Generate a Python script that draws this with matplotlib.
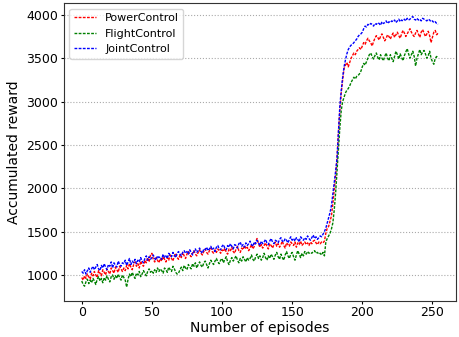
import matplotlib.pyplot as plt

plt.rcParams['font.family'] = ['DejaVu Sans']

# Rewards, one value per episode (0..254)
joint_control = [
    1040, 1020, 1060, 1010, 1050, 1080, 1030, 1070, 1100, 1060,
    1090, 1120, 1070, 1050, 1110, 1080, 1130, 1090, 1060, 1120,
    1100, 1150, 1080, 1140, 1110, 1090, 1160, 1120, 1100, 1140,
    1130, 1170, 1110, 1150, 1190, 1120, 1160, 1140, 1180, 1130,
    1170, 1150, 1200, 1160, 1140, 1190, 1220, 1170, 1210, 1180,
    1200, 1230, 1190, 1170, 1220, 1200, 1210, 1180, 1240, 1200,
    1220, 1190, 1250, 1230, 1210, 1260, 1230, 1200, 1250, 1270,
    1240, 1220, 1260, 1280, 1250, 1270, 1240, 1290, 1260, 1230,
    1270, 1300, 1260, 1280, 1310, 1270, 1250, 1300, 1290, 1320,
    1280, 1300, 1330, 1290, 1310, 1270, 1320, 1340, 1300, 1290,
    1330, 1350, 1310, 1290, 1340, 1320, 1360, 1330, 1300, 1350,
    1340, 1310, 1360, 1380, 1330, 1350, 1320, 1370, 1340, 1360,
    1390, 1350, 1330, 1380, 1360, 1400, 1370, 1340, 1390, 1360,
    1380, 1410, 1370, 1350, 1390, 1420, 1380, 1360, 1400, 1390,
    1370, 1410, 1430, 1390, 1380, 1420, 1400, 1370, 1410, 1440,
    1400, 1420, 1390, 1430, 1410, 1380, 1440, 1420, 1400, 1430,
    1410, 1450, 1420, 1400, 1430, 1460, 1420, 1440, 1410, 1430,
    1450, 1440, 1470, 1500, 1540, 1600, 1660, 1720, 1800, 1930,
    2060, 2200, 2350, 2650, 2950, 3130, 3280, 3400, 3480, 3550,
    3600, 3630, 3650, 3660, 3680, 3700, 3720, 3750, 3770, 3780,
    3800, 3840, 3870, 3860, 3890, 3880, 3900, 3890, 3870, 3900,
    3890, 3910, 3900, 3880, 3920, 3900, 3910, 3930, 3900, 3920,
    3910, 3930, 3920, 3940, 3910, 3930, 3950, 3920, 3940, 3930,
    3950, 3930, 3960, 3940, 3950, 3970, 3980, 3950, 3940, 3960,
    3940, 3950, 3930, 3960, 3950, 3940, 3930, 3950, 3940, 3920,
    3930, 3910, 3920, 3900, 3890,
]

power_control = [
    970, 940, 990, 960, 1010, 980, 950, 1020, 990, 1040,
    1000, 970, 1050, 1020, 990, 1060, 1030, 1000, 1070, 1040,
    1010, 1080, 1050, 1020, 1090, 1060, 1030, 1100, 1070, 1040,
    1080, 1050, 1110, 1070, 1130, 1090, 1060, 1120, 1150, 1100,
    1130, 1080, 1160, 1120, 1100, 1170, 1140, 1200, 1150, 1230,
    1250, 1180, 1150, 1200, 1170, 1140, 1190, 1160, 1210, 1180,
    1150, 1200, 1170, 1230, 1190, 1160, 1220, 1250, 1200, 1180,
    1230, 1200, 1260, 1220, 1190, 1240, 1270, 1230, 1210, 1250,
    1280, 1240, 1220, 1260, 1290, 1250, 1230, 1270, 1300, 1260,
    1240, 1280, 1310, 1270, 1250, 1290, 1260, 1300, 1280, 1250,
    1290, 1270, 1310, 1260, 1240, 1300, 1280, 1320, 1270, 1250,
    1300, 1330, 1280, 1260, 1310, 1290, 1340, 1300, 1320, 1280,
    1310, 1350, 1300, 1330, 1380, 1420, 1360, 1320, 1350, 1310,
    1340, 1370, 1330, 1300, 1360, 1340, 1310, 1350, 1380, 1330,
    1360, 1320, 1350, 1390, 1340, 1310, 1370, 1350, 1330, 1380,
    1360, 1340, 1380, 1320, 1370, 1350, 1390, 1340, 1360, 1380,
    1350, 1370, 1340, 1380, 1360, 1390, 1400, 1370, 1350, 1380,
    1360, 1380, 1370, 1390, 1480, 1540, 1560, 1620, 1680, 1820,
    1980, 2150, 2350, 2650, 2900, 3100, 3250, 3380, 3420, 3450,
    3400, 3450, 3500, 3530, 3560, 3540, 3580, 3600, 3620, 3600,
    3640, 3680, 3660, 3700, 3730, 3700, 3680, 3640, 3690, 3730,
    3760, 3740, 3710, 3750, 3780, 3740, 3700, 3730, 3770, 3750,
    3720, 3760, 3790, 3740, 3770, 3800, 3760, 3730, 3780, 3820,
    3790, 3750, 3780, 3810, 3840, 3800, 3770, 3750, 3790, 3820,
    3780, 3740, 3800, 3830, 3790, 3750, 3780, 3810, 3760, 3680,
    3740, 3800, 3820, 3770, 3790,
]

flight_control = [
    930, 890, 870, 920, 950, 900, 940, 910, 960, 930,
    890, 950, 980, 930, 960, 910, 970, 940, 990, 950,
    920, 980, 1000, 950, 990, 960, 1010, 970, 940, 1000,
    970, 940, 860, 950, 1010, 980, 1030, 990, 960, 1020,
    1000, 1040, 980, 1010, 1050, 1020, 990, 1040, 1070, 1030,
    1050, 1020, 1060, 1030, 1080, 1040, 1070, 1050, 1020, 1080,
    1060, 1030, 1090, 1060, 1040, 1100, 1070, 1030, 1010, 1020,
    1060, 1090, 1050, 1110, 1080, 1060, 1120, 1090, 1070, 1130,
    1100, 1140, 1080, 1120, 1150, 1110, 1090, 1140, 1160, 1120,
    1080, 1130, 1170, 1140, 1120, 1160, 1190, 1150, 1130, 1170,
    1190, 1140, 1180, 1210, 1150, 1120, 1170, 1200, 1160, 1190,
    1220, 1170, 1140, 1190, 1160, 1210, 1180, 1150, 1200, 1170,
    1190, 1230, 1180, 1160, 1210, 1240, 1190, 1220, 1170, 1200,
    1250, 1200, 1170, 1220, 1190, 1240, 1210, 1180, 1230, 1260,
    1210, 1180, 1240, 1200, 1170, 1230, 1270, 1220, 1190, 1240,
    1260, 1210, 1170, 1230, 1280, 1240, 1200, 1250, 1220, 1270,
    1240, 1270, 1250, 1260, 1250, 1270, 1280, 1250, 1260, 1240,
    1250, 1230, 1260, 1220, 1380, 1420, 1450, 1480, 1530, 1600,
    1750, 1950, 2200, 2450, 2700, 2900, 3000, 3050, 3100, 3130,
    3150, 3180, 3220, 3250, 3280, 3260, 3290, 3300, 3320, 3350,
    3400, 3440, 3420, 3460, 3500, 3540, 3560, 3520, 3490, 3530,
    3560, 3510, 3480, 3540, 3500, 3470, 3520, 3560, 3500, 3470,
    3540, 3500, 3460, 3520, 3580, 3540, 3490, 3550, 3510, 3470,
    3530, 3570, 3610, 3550, 3500, 3540, 3580, 3520, 3410, 3500,
    3550, 3600, 3540, 3570, 3590, 3550, 3500, 3530, 3580, 3500,
    3460, 3430, 3500, 3520, 3500,
]

episodes = list(range(len(joint_control)))

fig = plt.figure(figsize=(4.6, 3.37), dpi=100)
ax = fig.add_axes([0.139, 0.108, 0.852, 0.883])

ax.plot(episodes, power_control, color='red', lw=1.0, dashes=(2, 1), label='PowerControl')
ax.plot(episodes, flight_control, color='green', lw=1.0, dashes=(2, 1), label='FlightControl')
ax.plot(episodes, joint_control, color='blue', lw=1.0, dashes=(2, 1), label='JointControl')

ax.set_xticks([0, 50, 100, 150, 200, 250])
ax.set_yticks([1000, 1500, 2000, 2500, 3000, 3500, 4000])
ax.tick_params(labelsize=9, length=2.5, pad=1.5)
ax.yaxis.grid(True, linestyle=':', color='#aaaaaa', lw=0.8)
for s in ax.spines.values():
    s.set_color('#333333')

ax.set_xlabel('Number of episodes', fontsize=10, labelpad=1)
ax.set_ylabel('Accumulated reward', fontsize=10, labelpad=4)
ax.legend(loc='upper left', fontsize=8)

fig.savefig('out.png')
